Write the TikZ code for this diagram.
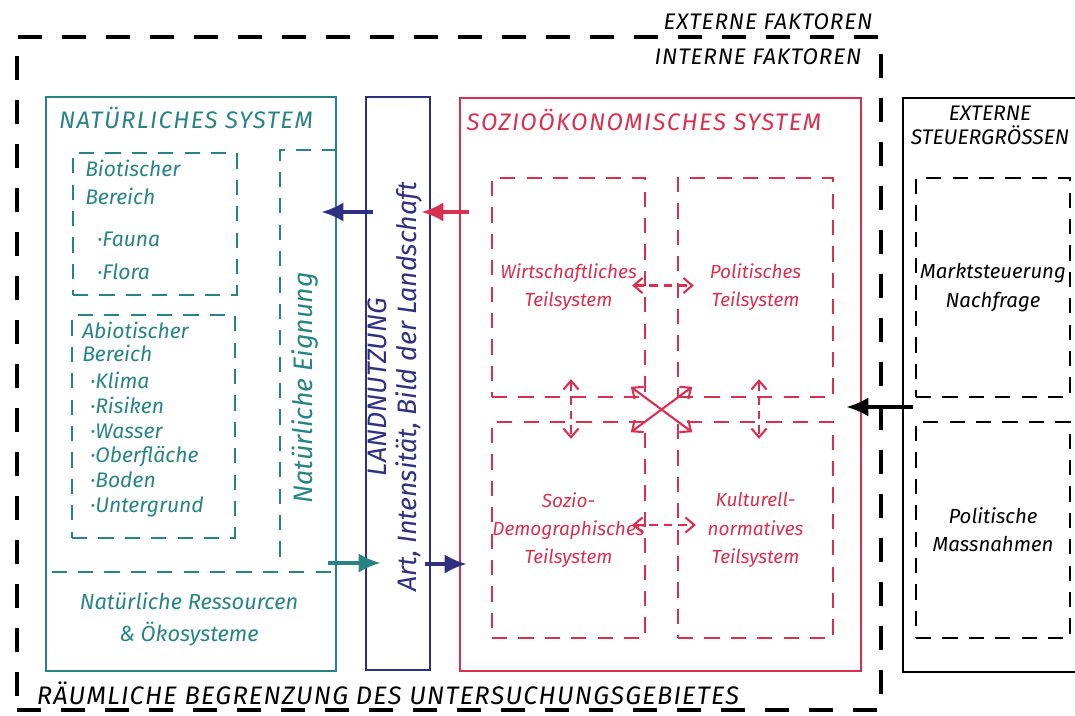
\documentclass[tikz,border=0pt]{standalone}
\usepackage{fontspec}
\setmainfont{Fira Sans}
\usetikzlibrary{arrows.meta,calc}

\definecolor{natteal}{RGB}{40,132,132}
\definecolor{landblue}{RGB}{48,48,130}
\definecolor{soziored}{RGB}{216,48,78}

\tikzset{
  hand/.style={font=\fontsize{15}{20}\selectfont\itshape},
  caps/.style={font=\fontsize{17}{22}\selectfont\itshape\addfontfeature{LetterSpace=6}},
  sysbox/.style={draw, line width=2pt, inner sep=0pt},
  subbox/.style={draw, line width=1.6pt, dash pattern=on 0.38cm off 0.28cm, inner sep=0pt, align=center,
                 font=\fontsize{13.5}{20}\selectfont\itshape},
  bigarrow/.style={line width=2.2pt, -{Latex[length=0.55cm,width=0.48cm]}},
  exchange/.style={line width=1.5pt, dash pattern=on 0.22cm off 0.14cm, {Straight Barb[length=0.22cm,width=0.38cm]}-{Straight Barb[length=0.22cm,width=0.38cm]}},
  crossing/.style={line width=1.5pt, {Straight Barb[length=0.22cm,width=0.38cm]}-{Straight Barb[length=0.22cm,width=0.38cm]}}
}

\begin{document}
\begin{tikzpicture}[x=0.025cm, y=-0.025cm]
  \useasboundingbox (0,0) rectangle (1075,715);

  % Untersuchungsgebiet
  \node[draw, line width=2.8pt, dash pattern=on 0.6cm off 0.5cm, inner sep=0pt,
        minimum width=21.6cm, minimum height=16.825cm] (area) at (449,373.5) {};
  \node[font=\fontsize{16}{20}\selectfont\itshape\addfontfeature{LetterSpace=4}] (extf) at (768,22) {EXTERNE FAKTOREN};
  \node[font=\fontsize{16}{20}\selectfont\itshape\addfontfeature{LetterSpace=4}] (intf) at (758,57) {INTERNE FAKTOREN};
  \node[font=\fontsize{18}{22}\selectfont\itshape\addfontfeature{LetterSpace=5}] (limit) at (388,693) {RÄUMLICHE BEGRENZUNG DES UNTERSUCHUNGSGEBIETES};

  % Systeme
  \node[sysbox, natteal, minimum width=7.25cm, minimum height=14.35cm] (natsys) at (191,384) {};
  \node[sysbox, landblue, minimum width=1.6cm, minimum height=14.325cm] (landuse) at (398,383.5) {};
  \node[sysbox, soziored, minimum width=10.025cm, minimum height=14.325cm] (soziosys) at (660.5,384.5) {};
  \node[sysbox, minimum width=5.3cm, minimum height=14.35cm] (extsys) at (1009,385) {};

  % Natuerliches System
  \node[caps, natteal] (nattitle) at (186,118) {NATÜRLICHES SYSTEM};
  \node[subbox, natteal, minimum width=4.1cm, minimum height=3.55cm] (biotic) at (155,224) {};
  \node[subbox, natteal, minimum width=4.075cm, minimum height=5.575cm] (abiotic) at (153.5,426.5) {};
  \node[hand, natteal, align=left, anchor=north west, inner sep=0pt] (biotitle) at (85,160) {Biotischer\\Bereich};
  \node[hand, natteal, align=left, anchor=north west, inner sep=0pt,
        font=\fontsize{15}{23}\selectfont\itshape] (biolist) at (97,232) {·Fauna\\·Flora};
  \node[hand, natteal, align=left, anchor=north west, inner sep=0pt,
        font=\fontsize{15}{16}\selectfont\itshape] (abiotitle) at (82,322) {Abiotischer\\Bereich};
  \node[hand, natteal, align=left, anchor=north west, inner sep=0pt,
        font=\fontsize{15}{17.6}\selectfont\itshape] (abiolist) at (90,372)
        {·Klima\\·Risiken\\·Wasser\\·Oberfläche\\·Boden\\·Untergrund};
  \draw[natteal, line width=1.6pt, dash pattern=on 0.38cm off 0.28cm]
    (natsys.east |- 0,150) -- (280,150) -- (280,567);
  \draw[natteal, line width=1.6pt, dash pattern=on 0.38cm off 0.28cm]
    ($(natsys.west |- 0,572)+(7,0)$) -- (natsys.east |- 0,572);
  \node[natteal, rotate=90, font=\fontsize{19}{22}\selectfont\itshape] (suit) at (305,388) {Natürliche Eignung};
  \node[natteal, align=center, font=\fontsize{15.5}{22.5}\selectfont\itshape] (resources) at (189,619)
    {Natürliche Ressourcen\\\& Ökosysteme};

  % Landnutzung
  \node[landblue, rotate=90, align=center, font=\fontsize{19}{21.3}\selectfont\itshape] (landtxt) at (395,387)
    {LANDNUTZUNG\\Art, Intensität, Bild der Landschaft};

  % Soziooekonomisches System
  \node[caps, soziored] (soztitle) at (644,120) {SOZIOÖKONOMISCHES SYSTEM};
  \node[subbox, soziored, minimum width=3.825cm, minimum height=5.475cm] (econ) at (568.5,287.5) {Wirtschaftliches\\Teilsystem};
  \node[subbox, soziored, minimum width=3.875cm, minimum height=5.475cm] (polit) at (755.5,287.5) {Politisches\\Teilsystem};
  \node[subbox, soziored, minimum width=3.825cm, minimum height=5.4cm] (demog) at (568.5,530) {Sozio-\\Demographisches\\Teilsystem};
  \node[subbox, soziored, minimum width=3.875cm, minimum height=5.4cm] (cultur) at (755.5,530) {Kulturell-\\normatives\\Teilsystem};
  \coordinate (hub) at ($(econ.south east)!0.5!(cultur.north west)$);
  \draw[exchange, soziored] ($(econ.east)+(-14,-2)$) -- ($(polit.west)+(17,-2)$);
  \draw[exchange, soziored] ($(demog.east)+(-14,-5)$) -- ($(cultur.west)+(19,-5)$);
  \draw[exchange, soziored] ($(econ.south)+(2.5,-19)$) -- ($(demog.north)+(2.5,18)$);
  \draw[exchange, soziored] ($(polit.south)+(3.5,-19)$) -- ($(cultur.north)+(3.5,18)$);
  \draw[crossing, soziored] ($(hub)!2!(econ.south east)$) -- ($(hub)!2!(cultur.north west)$);
  \draw[crossing, soziored] ($(hub)!2!(polit.south west)$) -- ($(hub)!2!(demog.north east)$);

  % Externe Steuergroessen
  \node[align=center, font=\fontsize{15}{17}\selectfont\itshape] (exttitle) at (990,125) {EXTERNE\\STEUERGRÖSSEN};
  \node[subbox, font=\fontsize{14.5}{20}\selectfont\itshape, minimum width=3.85cm, minimum height=5.475cm] (market) at (993,287.5) {Marktsteuerung\\Nachfrage};
  \node[subbox, font=\fontsize{14.5}{20}\selectfont\itshape, minimum width=3.85cm, minimum height=5.4cm] (measures) at (993,530) {Politische\\Massnahmen};

  % Wirkungen
  \draw[bigarrow, landblue] ($(landuse.west |- 0,212)+(8,0)$) -- ($(natsys.east |- 0,212)+(-16,0)$);
  \draw[bigarrow, soziored] ($(soziosys.west |- 0,212)+(10,0)$) -- ($(landuse.east |- 0,212)+(-10,0)$);
  \draw[bigarrow, natteal] ($(natsys.east |- 0,563)+(-9,0)$) -- ($(landuse.west |- 0,563)+(16,0)$);
  \draw[bigarrow, landblue] ($(landuse.east |- 0,564)+(-6,0)$) -- ($(soziosys.west |- 0,564)+(8,0)$);
  \draw[bigarrow] ($(extsys.west |- 0,407)+(11,0)$) -- ($(soziosys.east |- 0,407)+(-16,0)$);
\end{tikzpicture}
\end{document}
